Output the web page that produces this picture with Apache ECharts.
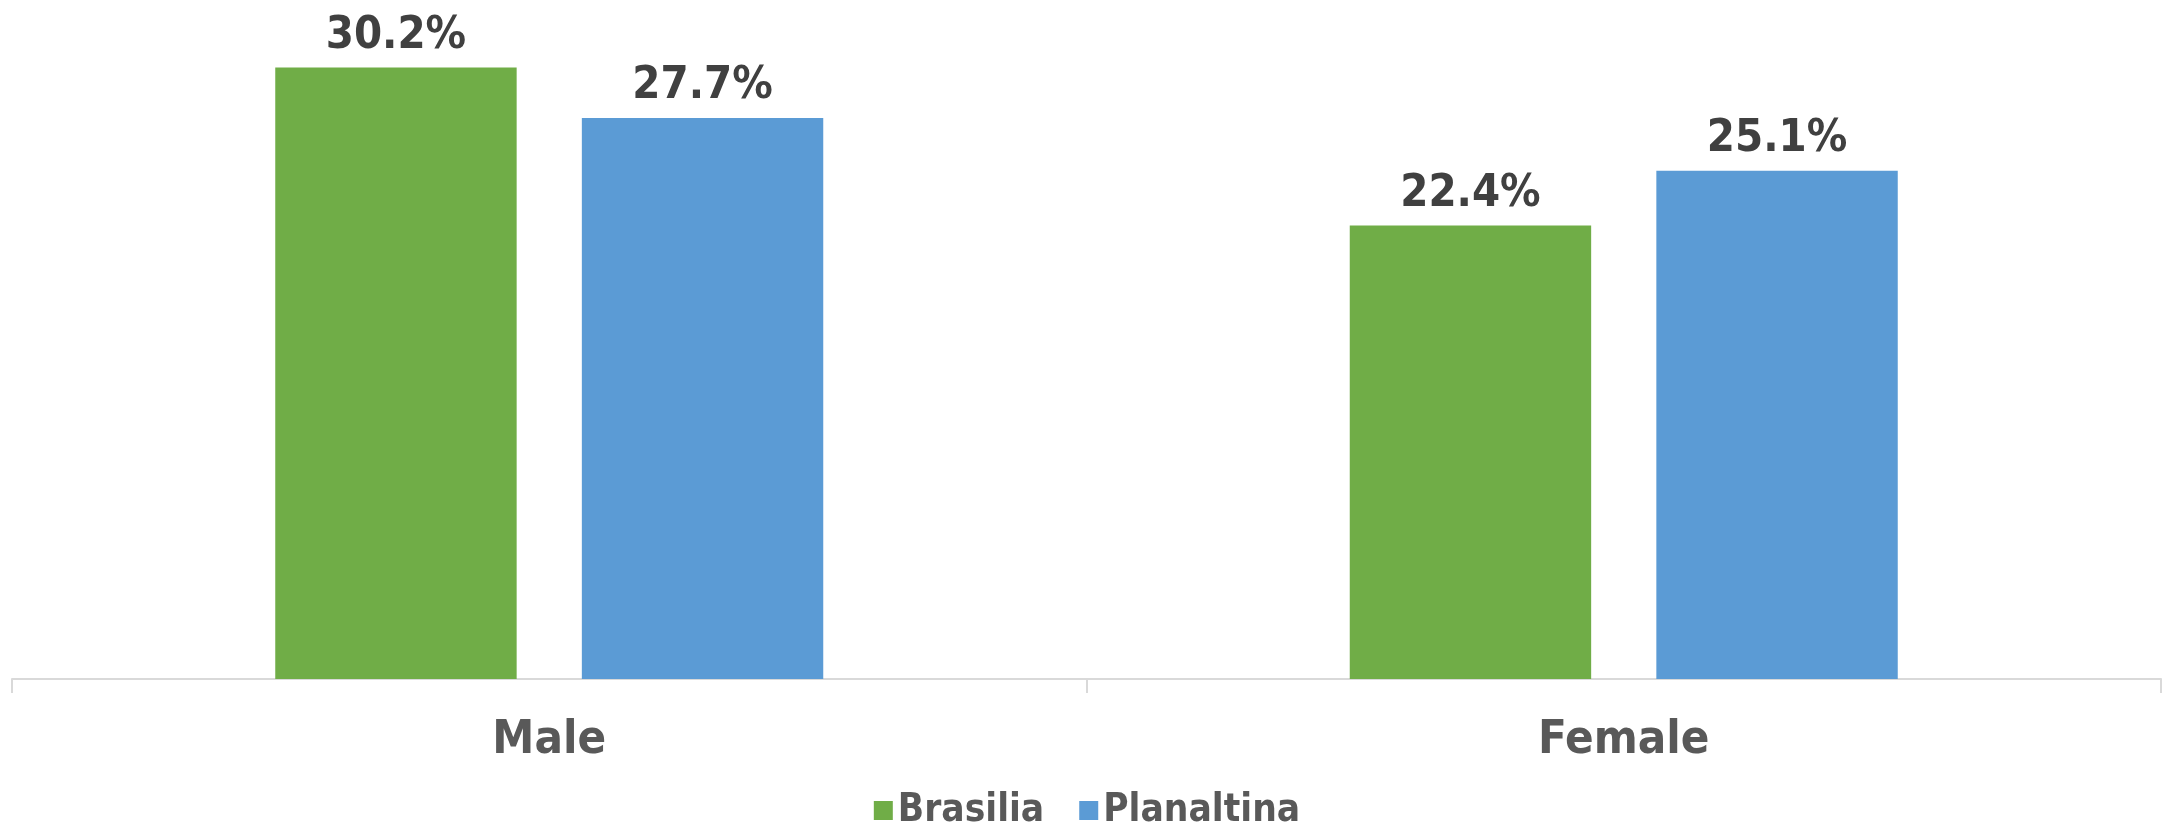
<!DOCTYPE html>
<html><head><meta charset="utf-8">
<script src="https://cdn.jsdelivr.net/npm/echarts@6/dist/echarts.min.js"></script>
<style>html,body{margin:0;padding:0;background:#fff}#c{width:2174px;height:825px}</style>
</head><body><div id="c"></div>
<script>
const categories = ['Male', 'Female'];
const seriesNames = ['Brasilia', 'Planaltina'];
const brasilia = [30.2, 22.4];
const planaltina = [27.7, 25.1];

const FONT = "'DejaVu Sans Condensed', 'Liberation Sans', sans-serif";
const chart = echarts.init(document.getElementById('c'));
const labelCfg = {
  show: true, position: 'top', distance: 9,
  formatter: p => p.value.toFixed(1) + '%',
  fontFamily: FONT, fontWeight: 'bold', fontSize: 45, color: '#404040'
};
chart.setOption({
  animation: false,
  grid: { left: 12, right: 13, top: 31, bottom: 146, containLabel: false },
  legend: {
    data: seriesNames, bottom: -10, left: 'center',
    itemWidth: 19, itemHeight: 19, itemGap: 35,
    icon: 'rect',
    textStyle: { fontFamily: FONT, fontWeight: 'bold', fontSize: 38.5, color: '#595959' }
  },
  xAxis: {
    type: 'category', data: categories,
    axisLine: { lineStyle: { color: '#d9d9d9', width: 2 } },
    axisTick: { show: true, length: 14, lineStyle: { color: '#d9d9d9', width: 2 } },
    axisLabel: { margin: 38, fontFamily: FONT, fontWeight: 'bold', fontSize: 47, color: '#595959' }
  },
  yAxis: { type: 'value', min: 0, max: 32, show: false, splitLine: { show: false } },
  series: [
    { name: seriesNames[0], type: 'bar', data: brasilia, itemStyle: { color: '#70AD47' },
      barGap: '27%', barCategoryGap: '49%', label: labelCfg },
    { name: seriesNames[1], type: 'bar', data: planaltina, itemStyle: { color: '#5B9BD5' },
      barGap: '27%', barCategoryGap: '49%', label: labelCfg }
  ]
});
</script></body></html>
